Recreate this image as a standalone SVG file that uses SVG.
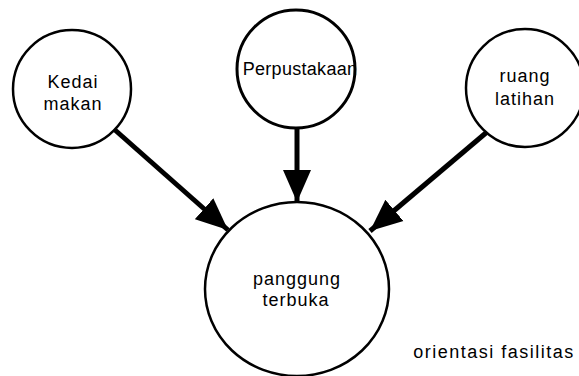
<svg xmlns="http://www.w3.org/2000/svg" width="579" height="376" viewBox="0 0 579 376">
  <style>
    .node { fill: #ffffff; stroke: #000000; stroke-width: 2.5; }
    .label { font-family: "Liberation Sans", Arial, sans-serif; font-size: 18px; fill: #000000; text-anchor: middle; letter-spacing: 1px; }
    .edge { stroke: #000000; stroke-width: 5; fill: none; marker-end: url(#head); }
  </style>
  <defs>
    <marker id="head" markerUnits="userSpaceOnUse" markerWidth="34" markerHeight="30" refX="32" refY="15" orient="auto">
      <path d="M0,1 L32,15 L0,29 Z" fill="#000000"/>
    </marker>
  </defs>
  <rect width="579" height="376" fill="#ffffff"/>

  <g id="connectors">
    <line class="edge" x1="115" y1="130" x2="228" y2="230"/>
    <line class="edge" x1="297" y1="128" x2="297" y2="202"/>
    <line class="edge" x1="487" y1="132" x2="370" y2="231"/>
  </g>

  <g id="kedai-makan">
    <circle class="node" cx="72" cy="89" r="59"/>
    <text class="label" x="73" y="88">Kedai</text>
    <text class="label" x="73" y="110">makan</text>
  </g>

  <g id="perpustakaan">
    <circle class="node" cx="296" cy="69" r="59" style="stroke-width:3"/>
    <text class="label" x="300" y="75" style="letter-spacing:0.3px">Perpustakaan</text>
  </g>

  <g id="ruang-latihan">
    <circle class="node" cx="525" cy="88" r="59"/>
    <text class="label" x="525" y="82">ruang</text>
    <text class="label" x="525" y="105">latihan</text>
  </g>

  <g id="panggung-terbuka">
    <ellipse class="node" cx="297" cy="289" rx="92" ry="87"/>
    <text class="label" x="297" y="285">panggung</text>
    <text class="label" x="296" y="306">terbuka</text>
  </g>

  <text class="label" x="494" y="358" style="letter-spacing:1.5px">orientasi fasilitas</text>
</svg>
